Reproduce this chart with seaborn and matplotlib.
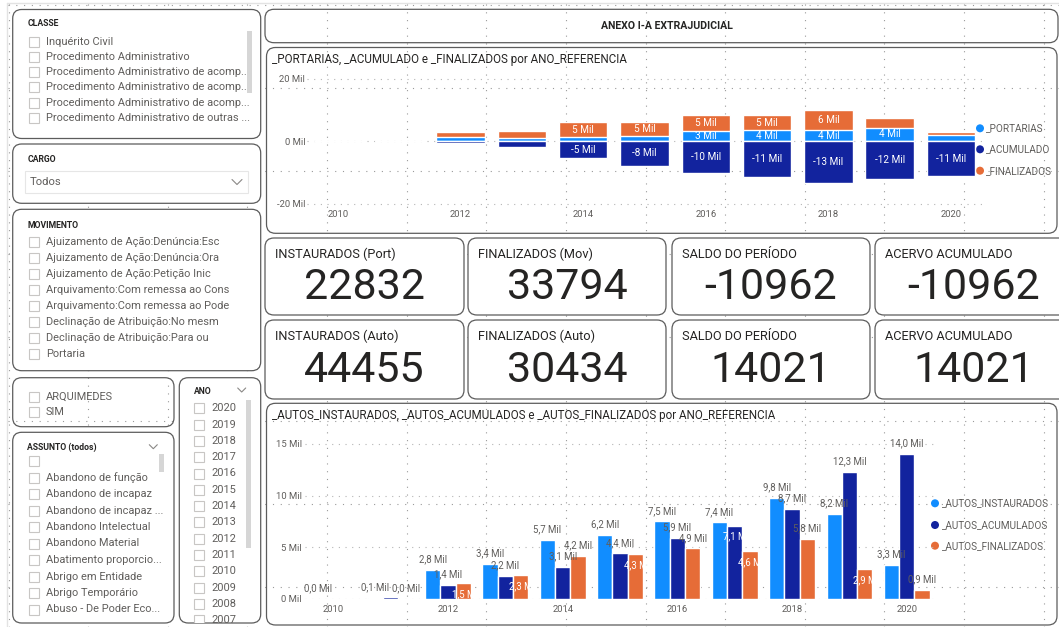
import numpy as np
import pandas as pd
import matplotlib
matplotlib.use('Agg')
import matplotlib.pyplot as plt
import seaborn as sns
from matplotlib.patches import FancyBboxPatch, Rectangle, Circle

# ---- data ------------------------------------------------------------
anos = [2010, 2011, 2012, 2013, 2014, 2015, 2016, 2017, 2018, 2019, 2020]

# upper chart, in thousands
portarias = [0.05, 0.10, 1.3, 0.9, 1.4, 1.7, 3.3, 3.6, 3.6, 4.4, 2.0]
finalizados = [0.00, 0.00, 1.8, 2.5, 4.7, 4.6, 5.0, 4.7, 6.4, 3.0, 0.9]
acumulado = [0.05, 0.10, -0.45, -1.9, -5.35, -7.8, -10.0, -11.3, -13.3, -12.2, -11.1]

# lower chart, in thousands
autos_instaurados = [0.04, 0.10, 2.8, 3.4, 5.7, 6.2, 7.5, 7.4, 9.8, 8.2, 3.3]
autos_acumulados = [0.04, 0.15, 1.4, 2.2, 3.1, 4.4, 5.9, 7.1, 8.7, 12.3, 14.0]
autos_finalizados = [0.02, 0.04, 1.5, 2.3, 4.2, 4.3, 4.9, 4.6, 5.8, 2.9, 0.9]

# label placement used by power bi: o = above bar, i = inside (white), - = hidden
pos_instaurados = ['o'] * 11
pos_acumulados = ['-', '-', 'o', 'o', 'o', 'o', 'o', 'i', 'o', 'o', 'o']
pos_finalizados = ['-', 'o', 'i', 'i', 'o', 'i', 'o', 'i', 'o', 'i', 'o']

serie_top = ['_PORTARIAS', '_ACUMULADO', '_FINALIZADOS']
serie_bot = ['_AUTOS_INSTAURADOS', '_AUTOS_ACUMULADOS', '_AUTOS_FINALIZADOS']

kpi_titles = ['INSTAURADOS (Port)', 'FINALIZADOS (Mov)', 'SALDO DO PERÍODO', 'ACERVO ACUMULADO',
              'INSTAURADOS (Auto)', 'FINALIZADOS (Auto)', 'SALDO DO PERÍODO', 'ACERVO ACUMULADO']
kpi_values = [22832, 33794, -10962, -10962, 44455, 30434, 14021, 14021]

classe_items = ['Inquérito Civil', 'Procedimento Administrativo',
                'Procedimento Administrativo de acomp...',
                'Procedimento Administrativo de acomp...',
                'Procedimento Administrativo de acomp...',
                'Procedimento Administrativo de outras ...']
movimento_items = ['Ajuizamento de Ação:Denúncia:Esc', 'Ajuizamento de Ação:Denúncia:Ora',
                   'Ajuizamento de Ação:Petição Inic', 'Arquivamento:Com remessa ao Cons',
                   'Arquivamento:Com remessa ao Pode', 'Declinação de Atribuição:No mesm',
                   'Declinação de Atribuição:Para ou', 'Portaria']
origem_items = ['ARQUIMEDES', 'SIM']
assunto_items = ['', 'Abandono de função', 'Abandono de incapaz', 'Abandono de incapaz ...',
                 'Abandono Intelectual', 'Abandono Material', 'Abatimento proporcio...',
                 'Abrigo em Entidade', 'Abrigo Temporário', 'Abuso - De Poder Eco...']
ano_items = [str(a) for a in range(2020, 2006, -1)]

# ---- style -----------------------------------------------------------
BLUE, NAVY, ORANGE = '#118DFF', '#12239E', '#E66C37'
GRAY_TXT, DARK_TXT, BORDER = '#605E5C', '#252423', '#5c5c5c'
W, H = 1059, 627

sns.set_theme(style='white')
plt.rcParams['font.family'] = ['Roboto', 'DejaVu Sans']

fig = plt.figure(figsize=(W / 100, H / 100), dpi=100)
fig.patch.set_facecolor('white')
bg = fig.add_axes([0, 0, 1, 1])
bg.set_xlim(0, W)
bg.set_ylim(H, 0)
bg.axis('off')


def px_axes(x0, y0, x1, y1):
    ax = fig.add_axes([x0 / W, 1 - y1 / H, (x1 - x0) / W, (y1 - y0) / H])
    ax.set_facecolor('none')
    return ax


def panel(x0, y0, x1, y1, fill=True):
    p = FancyBboxPatch((x0, y0), x1 - x0, y1 - y0, boxstyle='round,pad=0,rounding_size=9',
                       fc='white' if fill else 'none', ec=BORDER, lw=0.9, zorder=3)
    bg.add_patch(p)
    return p


def checklist(items, x, y0, step, clip, size=7.9):
    for k, it in enumerate(items):
        y = y0 + k * step
        cb = Rectangle((x, y - 5), 10, 10, fc='white', ec='#c8c6c4', lw=0.8, zorder=4)
        bg.add_patch(cb)
        cb.set_clip_path(clip)
        t = bg.text(x + 17.5, y, it, fontsize=size, color=GRAY_TXT, va='center', ha='left', zorder=5)
        t.set_clip_path(clip)


def chevron(x, y):
    bg.plot([x - 4, x, x + 4], [y - 2, y + 2, y - 2], color='#8a8886', lw=0.8, zorder=5)


def header(x, y, s):
    bg.text(x, y, s, fontsize=6.2, weight='bold', color=DARK_TXT, va='center', ha='left', zorder=5)


# page frame and canvas grid
bg.plot([6.5, 6.5], [3, H], color='#e3e3e3', lw=1, zorder=0)
bg.plot([6.5, W], [3, 3], color='#e3e3e3', lw=1, zorder=0)
for gx in np.arange(8.7, W, 79.6):
    bg.plot([gx, gx], [4, H], color='#9a9a9a', lw=0.8, ls=(0, (1, 6)), zorder=1)
for gy in np.arange(4.6, H, 83.2):
    bg.plot([8, W], [gy, gy], color='#9a9a9a', lw=0.8, ls=(0, (1, 6)), zorder=1)

# ---- left slicers ------------------------------------------------------
p = panel(12.7, 9.5, 260.7, 138.5)
header(27.3, 23, 'CLASSE')
checklist(classe_items, 28.5, 41.7, 15.2, p)
bg.add_patch(Rectangle((247, 30.7), 4.7, 62, fc='#d6d6d6', ec='none', zorder=6))

p = panel(12.7, 144, 260.7, 203.3)
header(27.3, 159.3, 'CARGO')
bg.add_patch(Rectangle((25, 171), 223.3, 22.3, fc='white', ec='#e6e6e6', lw=0.8, zorder=4))
bg.text(30, 182, 'Todos', fontsize=8.1, color=GRAY_TXT, va='center', zorder=5)
bg.plot([232, 237, 242], [179.5, 184.5, 179.5], color='#8a8886', lw=0.8, zorder=5)

p = panel(12.7, 209.3, 260.7, 370.7)
header(27.3, 225, 'MOVIMENTO')
checklist(movimento_items, 28.5, 241.7, 16.1, p)

p = panel(12.7, 377.7, 174, 426.7, fill=False)
checklist(origem_items, 28.5, 396.7, 15.0, p)

p = panel(12.7, 432.3, 174, 623)
header(27.3, 447.7, 'ASSUNTO (todos)')
chevron(153.3, 446.7)
checklist(assunto_items, 28.5, 461.0, 16.5, p)
bg.add_patch(Rectangle((159.3, 454), 4.7, 17.7, fc='#d6d6d6', ec='none', zorder=6))

p = panel(179.3, 377.7, 260.7, 623)
header(194.3, 391, 'ANO')
chevron(241.7, 390)
checklist(ano_items, 194.3, 408.3, 16.3, p)
bg.add_patch(Rectangle((246, 400), 4.7, 148.3, fc='#d6d6d6', ec='none', zorder=6))

# ---- title -------------------------------------------------------------
panel(265, 9.3, 1058, 42.7, fill=False)
bg.text(667, 26, 'ANEXO I-A EXTRAJUDICIAL', fontsize=7.6, weight='bold', color=DARK_TXT,
        ha='center', va='center', zorder=5)

# ---- KPI cards ---------------------------------------------------------
card_x = [(265, 464), (468, 666), (672, 870), (875, 1073)]
card_y = [(238, 315, 258, 298.7), (320, 399, 340.3, 382)]
for k, (t, v) in enumerate(zip(kpi_titles, kpi_values)):
    x0, x1 = card_x[k % 4]
    y0, y1, ty, vy = card_y[k // 4]
    panel(x0, y0, x1, y1)
    bg.text(x0 + 10, ty, t, fontsize=9.2, color=DARK_TXT, va='baseline', ha='left', zorder=5)
    bg.text((x0 + x1) / 2, vy, str(v), fontsize=31, color=DARK_TXT, va='baseline', ha='center', zorder=5)

# ---- upper chart -------------------------------------------------------
panel(266.5, 47.5, 1057, 233.3, fill=False)
bg.text(272, 59, '_PORTARIAS, _ACUMULADO e _FINALIZADOS por ANO_REFERENCIA', fontsize=8.4,
        color=DARK_TXT, va='center', zorder=5)

ax1 = px_axes(307.35, 75, 981.65, 207.6)
rotulos = [str(a) for a in anos]
total = [p_ + f_ for p_, f_ in zip(portarias, finalizados)]
for vals, col in [(total, ORANGE), (portarias, BLUE), (acumulado, NAVY)]:
    sns.barplot(x=rotulos, y=vals, color=col, saturation=1, width=0.79, errorbar=None, ax=ax1)

for i in range(len(anos)):
    segs = [(portarias[i], portarias[i] / 2),
            (finalizados[i], portarias[i] + finalizados[i] / 2),
            (acumulado[i], acumulado[i] / 2)]
    for v, yc in segs:
        if abs(v) >= 3.2:
            ax1.text(i, yc, f'{v:.0f} Mil', ha='center', va='center', color='white', fontsize=7.2)

ax1.set_xlim(-0.5, 10.5)
ax1.set_ylim(-21.25, 21.25)
ax1.set_yticks([-20, 0, 20])
ax1.set_yticklabels(['-20 Mil', '0 Mil', '20 Mil'])
ax1.set_xticks(range(0, 11, 2))
ax1.set_xticklabels(rotulos[::2])
ax1.set_xlabel('')
ax1.set_ylabel('')
ax1.tick_params(axis='both', length=0, labelsize=6.8, colors=GRAY_TXT)
ax1.tick_params(axis='x', pad=2)
ax1.tick_params(axis='y', pad=1.5)
ax1.yaxis.grid(True, color='#b5b5b5', lw=0.8, ls=(0, (1, 5)))
ax1.set_axisbelow(True)
sns.despine(ax=ax1, left=True, bottom=True)

for k, (nome, col) in enumerate(zip(serie_top, [BLUE, NAVY, ORANGE])):
    y = [128.3, 149.3, 170.7][k]
    bg.add_patch(Circle((980, y), 4, fc=col, ec='none', zorder=6))
    bg.text(986, y, nome, fontsize=7.2, color=GRAY_TXT, va='center', zorder=6)

# ---- lower chart -------------------------------------------------------
panel(266.5, 403.3, 1057, 625, fill=False)
bg.text(272, 415, '_AUTOS_INSTAURADOS, _AUTOS_ACUMULADOS e _AUTOS_FINALIZADOS por ANO_REFERENCIA',
        fontsize=8.4, color=DARK_TXT, va='center', zorder=5)

ax2 = px_axes(304.6, 430, 935.5, 599)
df = pd.DataFrame({
    'ano': rotulos * 3,
    'serie': [serie_bot[0]] * 11 + [serie_bot[1]] * 11 + [serie_bot[2]] * 11,
    'valor': autos_instaurados + autos_acumulados + autos_finalizados,
})
sns.barplot(data=df, x='ano', y='valor', hue='serie', palette=[BLUE, NAVY, ORANGE],
            saturation=1, width=0.8, errorbar=None, legend=False, ax=ax2)

for cont, modos in zip(ax2.containers, [pos_instaurados, pos_acumulados, pos_finalizados]):
    for bar, m in zip(cont, modos):
        v = bar.get_height()
        xc = bar.get_x() + bar.get_width() / 2
        s = f'{v:.1f}'.replace('.', ',')
        if m == 'o':
            ax2.annotate(s + ' Mil', (xc, v), xytext=(0, 7.6), textcoords='offset points',
                         ha='center', va='center', fontsize=6.9, color=GRAY_TXT)
        elif m == 'i':
            ax2.annotate(s + ' M', (xc, v), xytext=(0, -8), textcoords='offset points',
                         ha='center', va='center', fontsize=6.9, color='white')

ax2.set_xlim(-0.5, 10.5)
ax2.set_ylim(0, 16.33)
ax2.set_yticks([0, 5, 10, 15])
ax2.set_yticklabels(['0 Mil', '5 Mil', '10 Mil', '15 Mil'])
ax2.set_xticks(range(0, 11, 2))
ax2.set_xticklabels(rotulos[::2])
ax2.set_xlabel('')
ax2.set_ylabel('')
ax2.tick_params(axis='both', length=0, labelsize=6.8, colors=GRAY_TXT)
ax2.tick_params(axis='x', pad=4.5)
ax2.tick_params(axis='y', pad=2)
ax2.yaxis.grid(True, color='#b5b5b5', lw=0.8, ls=(0, (1, 5)))
ax2.set_axisbelow(True)
sns.despine(ax=ax2, left=True, bottom=True)

for k, (nome, col) in enumerate(zip(serie_bot, [BLUE, NAVY, ORANGE])):
    y = [503.3, 525, 545.7][k]
    bg.add_patch(Circle((935, y), 4, fc=col, ec='none', zorder=6))
    bg.text(941.5, y, nome, fontsize=7.2, color=GRAY_TXT, va='center', zorder=6)

fig.savefig('out.png', dpi=100)
